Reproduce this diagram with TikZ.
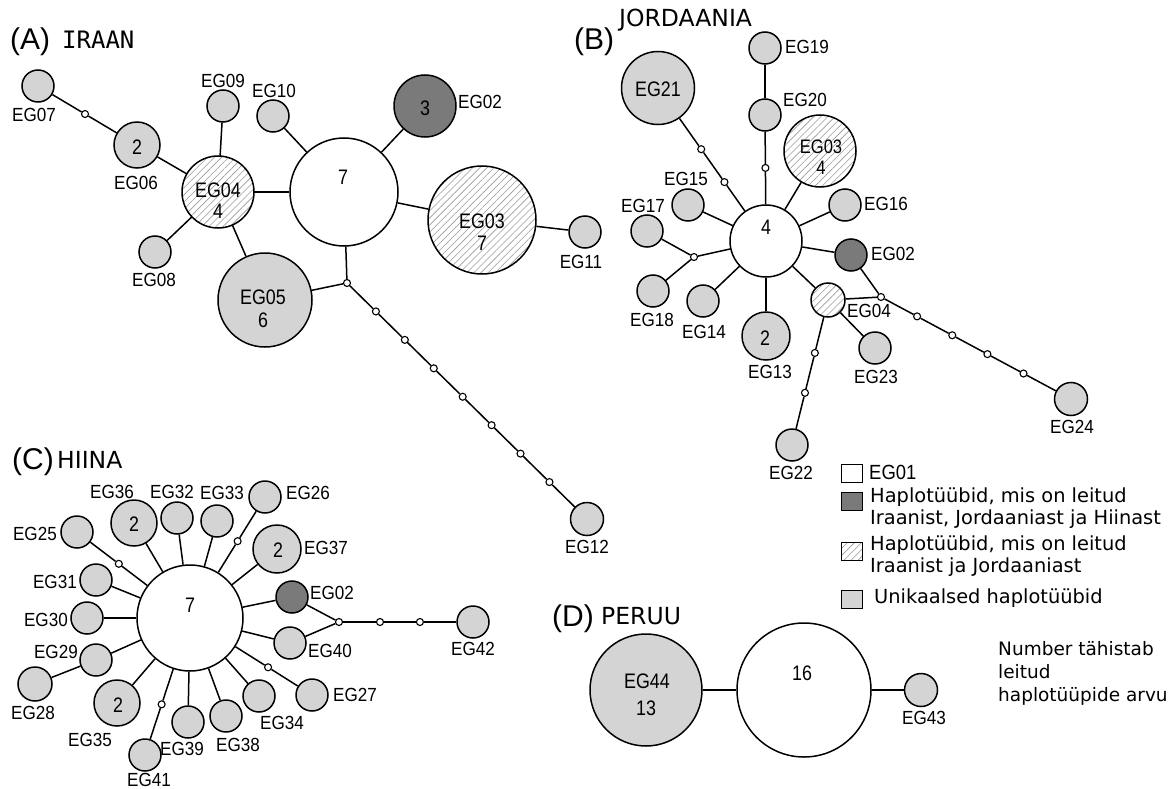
\documentclass[tikz,border=0pt]{standalone}
\usepackage{fontspec}
\setmainfont{Liberation Sans}
\newfontfamily\labfont[FakeStretch=0.9]{Liberation Sans}
\newfontfamily\inlfont[FakeStretch=0.85]{Liberation Sans}
\newfontfamily\djv{DejaVu Sans}
\newfontfamily\djvmono{DejaVu Sans Mono}
\usetikzlibrary{patterns.meta,calc}
\definecolor{uniGray}{HTML}{D4D4D4}
\definecolor{shrGray}{HTML}{7A7A7A}
\definecolor{hatchGray}{HTML}{9A9A9A}
\begin{document}
\begin{tikzpicture}[x=1pt,y=-1pt,
  hap/.style={circle,draw,line width=1.5pt,inner sep=0pt,minimum size=32pt},
  uni/.style={hap,fill=uniGray},
  shr/.style={hap,fill=shrGray},
  mainc/.style={hap,fill=white},
  hat/.style={hap,preaction={fill=white},pattern={Lines[angle=45,distance=5pt,line width=0.6pt]},pattern color=hatchGray},
  mv/.style={circle,draw,fill=white,line width=1.1pt,inner sep=0pt,minimum size=7pt},
  ln/.style={line width=1.5pt},
  lab/.style={font=\labfont\fontsize{19}{20}\selectfont,inner sep=0pt},
  num/.style={font=\inlfont\fontsize{21}{22}\selectfont,inner sep=0pt},
  inl/.style={font=\inlfont\fontsize{21}{22}\selectfont,inner sep=0pt},
  ttl/.style={font=\fontsize{30}{31}\selectfont,inner sep=0pt,anchor=west},
  cty/.style={font=\djv\fontsize{23.5}{26}\selectfont,inner sep=0pt,anchor=west},
  leg/.style={font=\djv\fontsize{19.4}{22}\selectfont,inner sep=0pt,anchor=west,align=left},
  note/.style={font=\djv\fontsize{18.5}{23}\selectfont,inner sep=0pt,anchor=west,align=left},
  lbox/.style={rectangle,draw,line width=1pt,minimum width=21pt,minimum height=18pt,inner sep=0pt}
]
\fill[white] (0,0) rectangle (1172,789);
\useasboundingbox (0,0) rectangle (1172,789);

% ---------- titles ----------
\node[ttl] (tA) at (10,42) {(A)};
\node[cty,font=\djvmono\fontsize{24}{26}\selectfont] (cA) at (62,40) {IRAAN};
\node[ttl] (tB) at (574,42) {(B)};
\node[cty] (cB) at (619,20) {JORDAANIA};
\node[ttl] (tC) at (12,462) {(C)};
\node[cty] (cC) at (57,460) {HIINA};
\node[ttl] (tD) at (552,619) {(D)};
\node[cty] (cD) at (601,616) {PERUU};

% ---------- panel A ----------
\node[uni] (A07) at (38,86) {};
\node[uni,minimum size=46pt] (A06) at (137,145) {};
\node[hat,minimum size=72pt] (A04) at (218,192) {};
\node[uni] (A09) at (223,106) {};
\node[uni] (A10) at (273,116) {};
\node[mainc,minimum size=108pt] (A01) at (344,192) {};
\node[shr,minimum size=62pt] (A02) at (425,106) {};
\node[hat,minimum size=108pt] (A03) at (482,220) {};
\node[uni] (A11) at (585,232) {};
\node[uni] (A08) at (155,252) {};
\node[uni,minimum size=94pt] (A05) at (265,300) {};
\node[mv] (jA) at (347,283) {};
\node[uni,minimum size=33pt] (A12) at (587,519) {};
\node[mv] (dA1) at ($(A07)!0.475!(A06)$) {};
\foreach \i/\f in {2/0.1205,3/0.241,4/0.3615,5/0.482,6/0.6025,7/0.723,8/0.8435}
  \node[mv] (dA\i) at ($(jA)!\f!(A12)$) {};

\draw[ln] (A07) -- (dA1) -- (A06);
\draw[ln] (A06) -- (A04);
\draw[ln] (A09) -- (A04);
\draw[ln] (A08) -- (A04);
\draw[ln] (A04) -- (A05);
\draw[ln] (A04) -- (A01);
\draw[ln] (A01) -- (A10);
\draw[ln] (A01) -- (A02);
\draw[ln] (A01) -- (A03);
\draw[ln] (A03) -- (A11);
\draw[ln] (A01) -- (jA);
\draw[ln] (jA) -- (A05);
\draw[ln] (jA) -- (dA2) -- (dA3) -- (dA4) -- (dA5) -- (dA6) -- (dA7) -- (dA8) -- (A12);

\node[lab] (A07l) at (34,115) {EG07};
\node[num] (A06t) at (137,147) {2};
\node[lab] (A06l) at (136,183) {EG06};
\node[inl] (A04t) at (218,190) {EG04};
\node[num] (A04n) at (218,211) {4};
\node[lab] (A09l) at (223,81) {EG09};
\node[lab] (A10l) at (274,91) {EG10};
\node[num] (A01t) at (343,177) {7};
\node[num] (A02t) at (425,108) {3};
\node[lab,anchor=west] (A02l) at (458,102) {EG02};
\node[inl] (A03t) at (482,221) {EG03};
\node[num] (A03n) at (482,243) {7};
\node[lab] (A11l) at (581,262) {EG11};
\node[lab] (A08l) at (154,280) {EG08};
\node[inl] (A05t) at (263,297) {EG05};
\node[num] (A05n) at (263,320) {6};
\node[lab] (A12l) at (587,547) {EG12};

% ---------- panel B ----------
\node[uni] (B19) at (765,48) {};
\node[uni] (B20) at (765,115) {};
\node[uni,minimum size=73pt] (B21) at (658,88) {};
\node[mainc,minimum size=72pt] (B01) at (766,241) {};
\node[hat,minimum size=72pt] (B03) at (820,151) {};
\node[uni] (B15) at (688,205) {};
\node[uni] (B17) at (647,231) {};
\node[uni] (B16) at (845,205) {};
\node[shr] (B02) at (851,255) {};
\node[mv] (jB1) at (694,257) {};
\node[uni] (B18) at (653,291) {};
\node[uni] (B14) at (703,301) {};
\node[uni,minimum size=48pt] (B13) at (766,336) {};
\node[hat,minimum size=34pt] (B04) at (828,300) {};
\node[uni] (B23) at (875,348) {};
\node[mv] (jB2) at (881,297) {};
\node[uni,minimum size=33pt] (B24) at (1071,399) {};
\node[uni] (B22) at (792,445) {};
\node[mv] (dB1) at ($(B20)!0.42!(B01)$) {};
\node[mv] (dB2) at ($(B21)!0.4!(B01)$) {};
\node[mv] (dB3) at ($(B21)!0.615!(B01)$) {};
\foreach \i/\f in {4/0.19,5/0.375,6/0.56,7/0.75}
  \node[mv] (dB\i) at ($(jB2)!\f!(B24)$) {};
\node[mv] (dB8) at ($(B04)!0.365!(B22)$) {};
\node[mv] (dB9) at ($(B04)!0.64!(B22)$) {};

\draw[ln] (B19) -- (B20);
\draw[ln] (B20) -- (dB1) -- (B01);
\draw[ln] (B21) -- (dB2) -- (dB3) -- (B01);
\draw[ln] (B15) -- (B01);
\draw[ln] (B03) -- (B01);
\draw[ln] (B16) -- (B01);
\draw[ln] (B02) -- (B01);
\draw[ln] (B04) -- (B01);
\draw[ln] (B13) -- (B01);
\draw[ln] (B14) -- (B01);
\draw[ln] (B01) -- (jB1);
\draw[ln] (jB1) -- (B17);
\draw[ln] (jB1) -- (B18);
\draw[ln] (B02) -- (jB2);
\draw[ln] (B04) -- (jB2);
\draw[ln] (jB2) -- (dB4) -- (dB5) -- (dB6) -- (dB7) -- (B24);
\draw[ln] (B04) -- (B23);
\draw[ln] (B04) -- (dB8) -- (dB9) -- (B22);

\node[lab,anchor=west] (B19l) at (785,47) {EG19};
\node[lab,anchor=west] (B20l) at (783,100) {EG20};
\node[inl] (B21t) at (658,89) {EG21};
\node[num] (B01t) at (766,227) {4};
\node[inl,font=\inlfont\fontsize{19.5}{20}\selectfont] (B03t) at (821,147) {EG03};
\node[num,font=\inlfont\fontsize{19.5}{20}\selectfont] (B03n) at (821,168) {4};
\node[lab] (B15l) at (686,179) {EG15};
\node[lab] (B17l) at (643,206) {EG17};
\node[lab,anchor=west] (B16l) at (864,204) {EG16};
\node[lab,anchor=west] (B02l) at (871,254) {EG02};
\node[lab] (B18l) at (652,320) {EG18};
\node[lab] (B14l) at (704,332) {EG14};
\node[num] (B13t) at (765,338) {2};
\node[lab] (B13l) at (770,372) {EG13};
\node[lab,anchor=west] (B04l) at (847,311) {EG04};
\node[lab] (B23l) at (876,377) {EG23};
\node[lab] (B24l) at (1072,427) {EG24};
\node[lab] (B22l) at (791,473) {EG22};

% ---------- panel C ----------
\node[mainc,minimum size=106pt] (C01) at (190,618) {};
\node[uni] (C25) at (77,532) {};
\node[uni,minimum size=46pt] (C36) at (134,523) {};
\node[uni] (C32) at (177,518) {};
\node[uni] (C33) at (217,521) {};
\node[uni] (C26) at (265,497) {};
\node[uni,minimum size=48pt] (C37) at (277,549) {};
\node[shr] (C02) at (292,597) {};
\node[uni] (C40) at (290,643) {};
\node[mv] (jC) at (339,622) {};
\node[uni] (C42) at (473,622) {};
\node[uni] (C27) at (312,695) {};
\node[uni] (C34) at (259,696) {};
\node[uni] (C38) at (226,716) {};
\node[uni] (C39) at (188,722) {};
\node[uni] (C41) at (145,755) {};
\node[uni,minimum size=46pt] (C35) at (117,703) {};
\node[uni] (C29) at (96,660) {};
\node[uni,minimum size=34pt] (C28) at (35,684) {};
\node[uni] (C30) at (87,618) {};
\node[uni] (C31) at (96,580) {};
\node[mv] (dC1) at ($(C25)!0.37!(C01)$) {};
\node[mv] (dC2) at ($(C26)!0.365!(C01)$) {};
\node[mv] (dC3) at ($(C27)!0.36!(C01)$) {};
\node[mv] (dC4) at ($(C41)!0.37!(C01)$) {};
\node[mv] (dC5) at ($(jC)!0.306!(C42)$) {};
\node[mv] (dC6) at ($(jC)!0.604!(C42)$) {};

\draw[ln] (C25) -- (dC1) -- (C01);
\draw[ln] (C26) -- (dC2) -- (C01);
\draw[ln] (C27) -- (dC3) -- (C01);
\draw[ln] (C41) -- (dC4) -- (C01);
\foreach \n in {C36,C32,C33,C37,C02,C40,C34,C38,C39,C35,C29,C30,C31}
  \draw[ln] (\n) -- (C01);
\draw[ln] (C28) -- (C29);
\draw[ln] (C02) -- (jC);
\draw[ln] (C40) -- (jC);
\draw[ln] (jC) -- (dC5) -- (dC6) -- (C42);

\node[num] (C01t) at (190,605) {7};
\node[lab,anchor=east] (C25l) at (57,534) {EG25};
\node[num] (C36t) at (134,524) {2};
\node[lab] (C36l) at (112,492) {EG36};
\node[lab] (C32l) at (172,492) {EG32};
\node[lab] (C33l) at (222,493) {EG33};
\node[lab,anchor=west] (C26l) at (286,493) {EG26};
\node[num] (C37t) at (278,550) {2};
\node[lab,anchor=west] (C37l) at (304,548) {EG37};
\node[lab,anchor=west] (C02l) at (310,593) {EG02};
\node[lab,anchor=west] (C40l) at (308,651) {EG40};
\node[lab] (C42l) at (473,649) {EG42};
\node[lab,anchor=west] (C27l) at (333,695) {EG27};
\node[lab] (C34l) at (282,723) {EG34};
\node[lab] (C38l) at (238,745) {EG38};
\node[lab] (C39l) at (182,749) {EG39};
\node[lab] (C41l) at (149,780) {EG41};
\node[num] (C35t) at (118,705) {2};
\node[lab] (C35l) at (90,740) {EG35};
\node[lab] (C28l) at (33,713) {EG28};
\node[lab,anchor=east] (C29l) at (78,652) {EG29};
\node[lab,anchor=east] (C30l) at (68,620) {EG30};
\node[lab,anchor=east] (C31l) at (77,582) {EG31};

% ---------- panel D ----------
\node[uni,minimum size=112pt] (D44) at (646,690) {};
\node[mainc,minimum size=134pt] (D01) at (804,690) {};
\node[uni,minimum size=33pt] (D43) at (921,690) {};
\draw[ln] (D44) -- (D01);
\draw[ln] (D01) -- (D43);
\node[inl] (D44t) at (647,681) {EG44};
\node[num] (D44n) at (646,708) {13};
\node[num] (D01t) at (802,673) {16};
\node[lab] (D43l) at (924,718) {EG43};

% ---------- legend ----------
\node[lbox,fill=white] (L1) at (852,473) {};
\node[lbox,fill=shrGray] (L2) at (852,501) {};
\node[lbox,preaction={fill=white},pattern={Lines[angle=45,distance=5pt,line width=0.6pt]},pattern color=hatchGray] (L3) at (852,551) {};
\node[lbox,fill=uniGray] (L4) at (852,599) {};
\node[font=\labfont\fontsize{20.5}{22}\selectfont,inner sep=0pt,anchor=west] (L1t) at (869,472) {EG01};
\node[leg] (L2t) at (870,508) {Haplotüübid, mis on leitud\\Iraanist, Jordaaniast ja Hiinast};
\node[leg] (L3t) at (870,556) {Haplotüübid, mis on leitud\\Iraanist ja Jordaaniast};
\node[leg] (L4t) at (874,598) {Unikaalsed haplotüübid};
\node[note] (Nt) at (998,673) {Number tähistab\\leitud\\haplotüüpide arvu};
\end{tikzpicture}
\end{document}
